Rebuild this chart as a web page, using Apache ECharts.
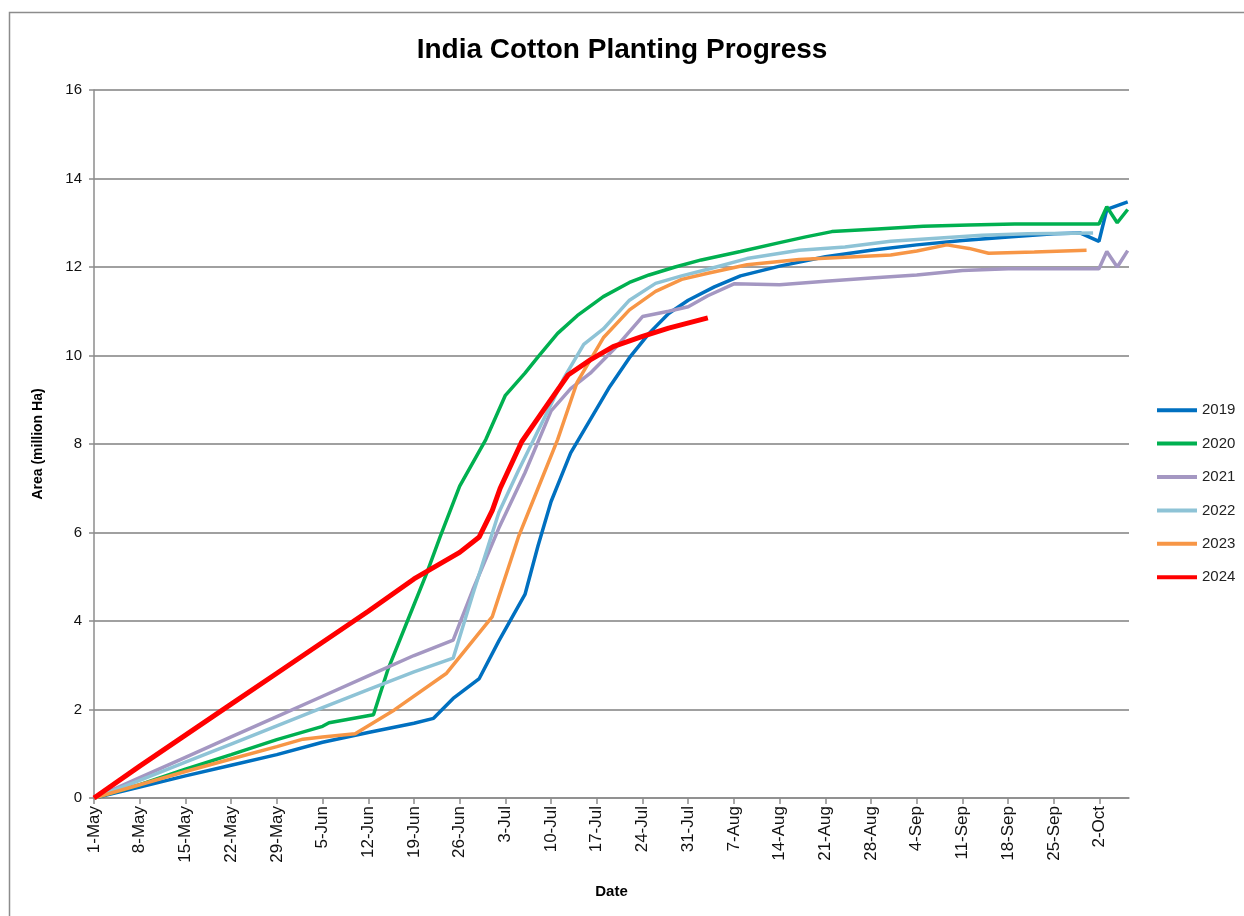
<!DOCTYPE html>
<html>
<head>
<meta charset="utf-8">
<script src="https://cdn.jsdelivr.net/npm/echarts@6/dist/echarts.min.js"></script>
<style>
html,body{margin:0;padding:0;background:#fff;}
#chart{width:1244px;height:916px;}
</style>
</head>
<body>
<div id="chart"></div>
<script>
// x values are days counted from 1-May
var tickDays = [0,7,14,21,28,35,42,49,56,63,70,77,84,91,98,105,112,119,126,133,140,147,154];
var tickLabels = ['1-May','8-May','15-May','22-May','29-May','5-Jun','12-Jun','19-Jun','26-Jun','3-Jul','10-Jul','17-Jul','24-Jul','31-Jul','7-Aug','14-Aug','21-Aug','28-Aug','4-Sep','11-Sep','18-Sep','25-Sep','2-Oct'];

var days2019 = [0,7,14,21,28,35,42,49,52,55,59,62,66,68,70,73,76,79,82,85,88,91,95,99,105,112,119,126,133,140,147,151,153.9,155.1,158.3];
var vals2019 = [0,0.25,0.5,0.74,0.98,1.26,1.48,1.69,1.8,2.25,2.7,3.55,4.6,5.7,6.7,7.8,8.55,9.3,9.95,10.5,10.95,11.25,11.55,11.8,12.02,12.23,12.38,12.5,12.6,12.68,12.75,12.77,12.58,13.3,13.47];

var days2020 = [0,7,14,21,28,35,36,42.8,45,48,51,53,56,60,63,66,68,71,74,78,82,85,89,93,99,105,109,113,120,127,134,141,148,153.9,155.1,156.7,158.3];
var vals2020 = [0,0.3,0.65,0.98,1.32,1.62,1.7,1.88,2.9,4.0,5.1,5.9,7.05,8.1,9.1,9.6,9.97,10.5,10.9,11.33,11.65,11.82,12.0,12.16,12.35,12.55,12.68,12.8,12.86,12.92,12.95,12.97,12.97,12.97,13.36,13.0,13.3];

var days2021 = [0,7,14,21,28,35,42,49,55,58,62,66,70,73,76,80,84,88,91,94,98,105,112,119,126,133,140,147,153.9,155.1,156.7,158.3];
var vals2021 = [0,0.46,0.92,1.38,1.84,2.3,2.76,3.22,3.57,4.7,6.1,7.35,8.75,9.25,9.6,10.2,10.88,11.0,11.1,11.35,11.62,11.6,11.68,11.75,11.82,11.92,11.96,11.96,11.96,12.35,12.0,12.37];

var days2022 = [0,7,14,21,28,35,42,49,55,58,62,65,69,72,75,78,82,86,90,94,100,108,115,122,129,136,143,150,153];
var vals2022 = [0,0.4,0.81,1.22,1.63,2.04,2.45,2.85,3.16,4.6,6.45,7.4,8.6,9.5,10.25,10.6,11.25,11.63,11.8,11.95,12.19,12.38,12.45,12.58,12.65,12.72,12.75,12.76,12.77];

var days2023 = [0,7,14,21,28,32,35,40,46,54,61,65,68,71,74,78,82,86,90,94,100,108,115,122,126,130.6,134,137,144,152];
var vals2023 = [0,0.3,0.6,0.88,1.16,1.33,1.38,1.45,1.99,2.82,4.1,5.9,7.0,8.1,9.4,10.4,11.03,11.45,11.72,11.86,12.05,12.17,12.22,12.27,12.36,12.5,12.42,12.31,12.34,12.38];

var days2024 = [0,7,14,21,28,35,42,49,56,59,61,62.2,65.5,69,72.6,76,79.5,84,88,94];
var vals2024 = [0,0.72,1.42,2.12,2.82,3.52,4.22,4.95,5.55,5.9,6.5,7.0,8.05,8.8,9.56,9.9,10.2,10.43,10.62,10.85];

var seriesNames = ['2019','2020','2021','2022','2023','2024'];
var seriesColors = ['#0070C0','#00B050','#A497C2','#8EC3D6','#F79646','#FF0000'];
var seriesDays = [days2019,days2020,days2021,days2022,days2023,days2024];
var seriesVals = [vals2019,vals2020,vals2021,vals2022,vals2023,vals2024];

function pairs(d, v){ return d.map(function(x,i){ return [x, v[i]]; }); }

var FONT = "'Liberation Sans', Arial, sans-serif";

var series = seriesNames.map(function(n, i){
  return {
    name: n,
    type: 'line',
    data: pairs(seriesDays[i], seriesVals[i]),
    symbol: 'none',
    smooth: false,
    lineStyle: { color: seriesColors[i], width: n === '2024' ? 5 : 3.5 },
    itemStyle: { color: seriesColors[i] },
    z: 2 + i
  };
});

var chart = echarts.init(document.getElementById('chart'), null, {renderer: 'canvas'});
chart.setOption({
  animation: false,
  backgroundColor: '#ffffff',
  title: {
    text: 'India Cotton Planting Progress',
    left: 'center',
    top: 31,
    textStyle: { fontFamily: FONT, fontSize: 28, fontWeight: 'bold', color: '#000' }
  },
  graphic: [{
    type: 'rect',
    shape: { x: 9.5, y: 12.5, width: 1250, height: 930 },
    style: { fill: 'none', stroke: '#8c8c8c', lineWidth: 1.5 },
    silent: true
  }],
  legend: {
    orient: 'vertical',
    left: 1157,
    top: 402,
    padding: 0,
    icon: 'rect',
    itemWidth: 40,
    itemHeight: 4,
    itemGap: 17,
    data: seriesNames,
    textStyle: { fontFamily: FONT, fontSize: 15, color: '#222', lineHeight: 16.4 }
  },
  grid: { left: 94, right: 115, top: 90, bottom: 118, containLabel: false },
  xAxis: {
    type: 'value',
    min: 0,
    max: 158.5,
    name: 'Date',
    nameLocation: 'middle',
    nameGap: 86,
    nameTextStyle: { fontFamily: FONT, fontSize: 15, fontWeight: 'bold', color: '#000' },
    axisLine: { show: true, onZero: false, lineStyle: { color: '#8c8c8c', width: 1.5 } },
    axisTick: { show: true, inside: false, length: 6, customValues: tickDays, lineStyle: { color: '#8c8c8c', width: 1.5 } },
    axisLabel: {
      customValues: tickDays,
      rotate: 90,
      margin: 8,
      fontFamily: FONT,
      fontSize: 17,
      color: '#111',
      formatter: function(v){ var k = tickDays.indexOf(Math.round(v)); return k >= 0 ? tickLabels[k] : ''; }
    },
    splitLine: { show: false }
  },
  yAxis: {
    type: 'value',
    min: 0,
    max: 16,
    interval: 2,
    name: 'Area (million Ha)',
    nameLocation: 'middle',
    nameGap: 49,
    nameRotate: 90,
    nameTextStyle: { fontFamily: FONT, fontSize: 14, fontWeight: 'bold', color: '#000' },
    axisLine: { show: true, lineStyle: { color: '#8c8c8c', width: 1.5 } },
    axisTick: { show: true, inside: false, length: 5, lineStyle: { color: '#8c8c8c', width: 1.5 } },
    axisLabel: { margin: 12, fontFamily: FONT, fontSize: 15, color: '#111' },
    splitLine: { show: true, lineStyle: { color: '#a0a0a0', width: 2 } }
  },
  series: series
});
</script>
</body>
</html>
